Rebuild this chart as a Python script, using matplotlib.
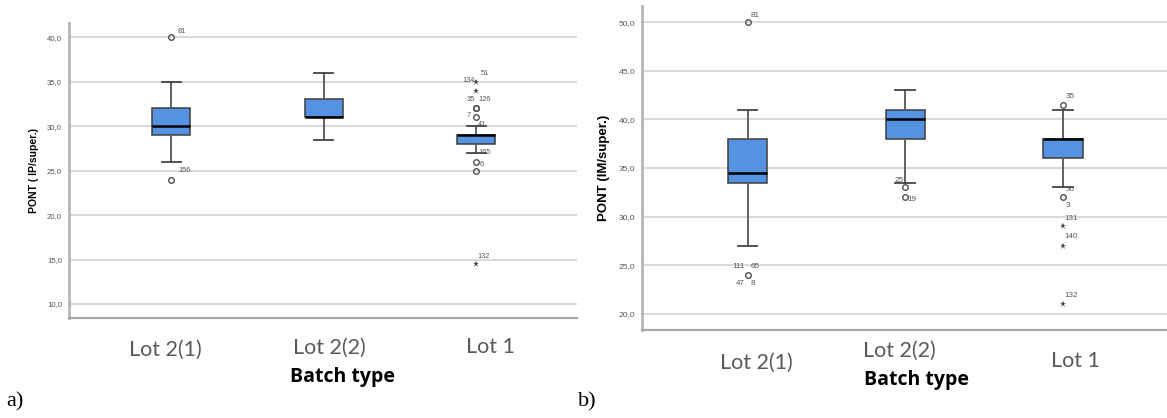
import matplotlib
matplotlib.use('Agg')
import matplotlib.pyplot as plt

# batch categories
batches = ['Lot 2(1)', 'Lot 2(2)', 'Lot 1']

# a) PONT (IP/super.) box stats
ip_q1 = [29, 31, 28]
ip_med = [30, 31, 29]
ip_q3 = [32, 33, 29]
ip_lo = [26, 28.5, 27]
ip_hi = [35, 36, 30]
# outliers: (batch index, value, marker)
ip_out_batch = [0, 0, 2, 2, 2, 2, 2, 2, 2, 2]
ip_out_val = [40, 24, 35, 34, 32, 31, 26, 25, 14.5, 32]
ip_out_kind = ['o', 'o', '*', '*', 'o', 'o', 'o', 'o', '*', 'o']
# case labels: (batch index, value, text)
ip_lab_batch = [0, 0, 2, 2, 2, 2, 2, 2, 2, 2, 2]
ip_lab_val = [40, 24, 35, 35, 32, 32, 31, 30, 27, 26, 14.5]
ip_lab_text = ['81', '156', '51', '134', '35', '126', '7', '41', '165', '6', '132']

# b) PONT (IM/super.) box stats
im_q1 = [33.5, 38, 36]
im_med = [34.5, 40, 38]
im_q3 = [38, 41, 38]
im_lo = [27, 33.5, 33]
im_hi = [41, 43, 41]
im_out_batch = [0, 0, 1, 1, 2, 2, 2, 2, 2]
im_out_val = [50, 24, 33, 32, 41.5, 32, 29, 27, 21]
im_out_kind = ['o', 'o', 'o', 'o', 'o', 'o', '*', '*', '*']
im_lab_batch = [0, 0, 0, 0, 0, 1, 1, 2, 2, 2, 2, 2, 2]
im_lab_val = [50, 24, 24, 24, 24, 33, 32, 41.5, 32, 32, 29, 27, 21]
im_lab_text = ['81', '111', '65', '47', '8', '25', '19', '35', '36', '3', '131', '140', '132']

# label offsets in pixels (layout only)
ip_lab_off = [(6, 6, 'left'), (7, 9, 'left'), (4, 8, 'left'), (-2, 1, 'right'),
              (-2, 9, 'right'), (2, 9, 'left'), (-6, 2, 'right'), (2, 2, 'left'),
              (2, 0, 'left'), (3, -3, 'left'), (1, 8, 'left')]
im_lab_off = [(3, 7, 'left'), (-3, 9, 'right'), (3, 9, 'left'), (-3, -8, 'right'),
              (3, -8, 'left'), (-2, 7, 'right'), (2, -2, 'left'), (3, 8, 'left'),
              (3, 8, 'left'), (3, -8, 'left'), (1, 8, 'left'), (1, 9, 'left'),
              (1, 9, 'left')]

BOX = '#5592e1'
GRID = '#dadada'
TXT = '#555555'

fig = plt.figure(figsize=(11.67, 4.18), dpi=100)
W, H = 1167, 418


def panel(rect, q1, med, q3, lo, hi, ob, ov, ok, lb, lv, lt, loff, ylim, yticks,
          ylabel, ylsize, tick_off, lab_size):
    ax = fig.add_axes(rect)
    stats = []
    for i in range(len(batches)):
        stats.append(dict(q1=q1[i], med=med[i], q3=q3[i], whislo=lo[i],
                          whishi=hi[i], fliers=[], label=''))
    pos = [1, 2, 3]
    ax.bxp(stats, positions=pos, widths=0.25, capwidths=0.125, patch_artist=True,
           showfliers=False,
           boxprops=dict(facecolor=BOX, edgecolor='#3d3d3d', linewidth=1.1),
           medianprops=dict(color='black', linewidth=1.8),
           whiskerprops=dict(color='#555555', linewidth=1.3),
           capprops=dict(color='#444444', linewidth=1.3), zorder=3)
    for b, v, k in zip(ob, ov, ok):
        if k == 'o':
            ax.plot(pos[b], v, 'o', ms=4, mfc='none', mec='#505050', mew=1.0, zorder=4)
        else:
            ax.plot(pos[b], v, '*', ms=4.5, color='#444444', mew=0, zorder=4)
    for b, v, t, (dx, dy, ha) in zip(lb, lv, lt, loff):
        ax.annotate(t, (pos[b], v), xytext=(dx, dy), textcoords='offset pixels',
                    ha=ha, va='center', fontsize=lab_size, color=TXT,
                    family='Liberation Sans')
    ax.set_xlim(0.33, 3.66)
    ax.set_ylim(*ylim)
    ax.set_yticks(yticks)
    ax.set_yticklabels([('%.1f' % t).replace('.', ',') for t in yticks],
                       fontsize=lab_size + 0.3, color=TXT, family='Liberation Sans')
    ax.tick_params(axis='y', length=0, pad=5)
    ax.set_xticks([])
    for t in yticks:
        ax.axhline(t, color=GRID, lw=1.5, zorder=1)
    for s in ['top', 'right']:
        ax.spines[s].set_visible(False)
    ax.spines['left'].set_color('#b5b5b5')
    ax.spines['left'].set_linewidth(2)
    ax.spines['bottom'].set_color('#a8a8a8')
    ax.spines['bottom'].set_linewidth(1.6)
    ax.set_ylabel(ylabel, fontsize=ylsize, fontweight='bold',
                  family='Liberation Sans', labelpad=6)
    for i, name in enumerate(batches):
        dx, dy = tick_off[i]
        ax.annotate(name, (pos[i], 0), xycoords=ax.get_xaxis_transform(),
                    xytext=(dx, -dy), textcoords='offset pixels', ha='center',
                    va='center', fontsize=15.5, color='#595959', family='Lato')
    return ax


axa = panel([69 / W, 1 - 318 / H, 508 / W, 295 / H], ip_q1, ip_med, ip_q3, ip_lo, ip_hi,
            ip_out_batch, ip_out_val, ip_out_kind, ip_lab_batch, ip_lab_val,
            ip_lab_text, ip_lab_off, (8.43, 41.6), [10, 15, 20, 25, 30, 35, 40],
            'PONT ( IP/super.)', 7.5, [(-6, 32), (6, 30), (14, 29)], 5.3)
axb = panel([642 / W, 1 - 330 / H, 525 / W, 324 / H], im_q1, im_med, im_q3, im_lo, im_hi,
            im_out_batch, im_out_val, im_out_kind, im_lab_batch, im_lab_val,
            im_lab_text, im_lab_off, (18.35, 51.65), [20, 25, 30, 35, 40, 45, 50],
            'PONT (IM/super.)', 9.5, [(9, 33), (-6, 21), (12, 31)], 5.8)

fig.text(343 / W, 1 - 377 / H, 'Batch type', ha='center', va='center',
         fontsize=14, fontweight='bold', family='Open Sans')
fig.text(916 / W, 1 - 380 / H, 'Batch type', ha='center', va='center',
         fontsize=14, fontweight='bold', family='Open Sans')
fig.text(6 / W, 1 - 402 / H, 'a)', ha='left', va='center', fontsize=16,
         family='Liberation Serif')
fig.text(578 / W, 1 - 402 / H, 'b)', ha='left', va='center', fontsize=16,
         family='Liberation Serif')

fig.savefig('out.png', dpi=100)
